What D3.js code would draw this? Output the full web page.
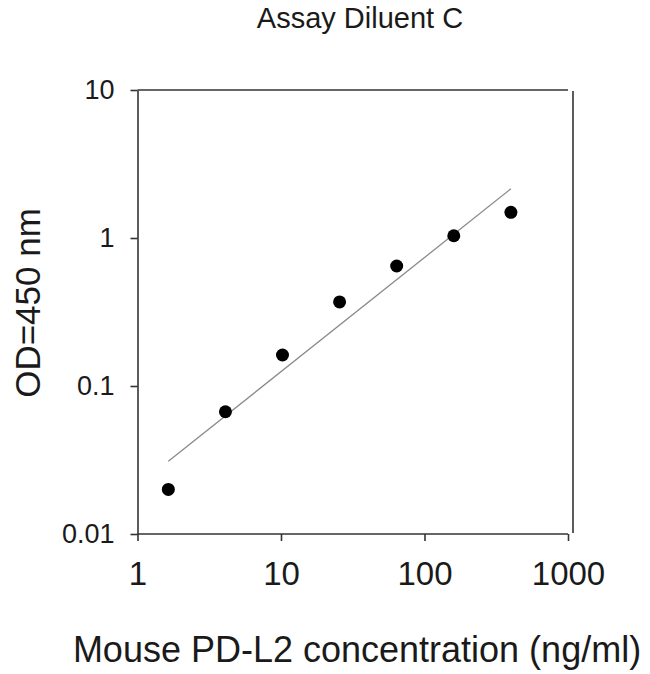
<!DOCTYPE html>
<html lang="en">
<head>
    <meta charset="UTF-8">
    <title>Assay Diluent C</title>
    <script src="https://d3js.org/d3.v7.min.js"></script>
    <style>
        body { margin: 0; background: #fff; }
        svg { display: block; font-family: "Liberation Sans", Arial, sans-serif; }
        .axis path, .axis line { stroke: #333; stroke-width: 1.6; }
        .axis text { fill: #1a1a1a; }
        .title { font-size: 29px; fill: #1a1a1a; }
        .axis-label { fill: #1a1a1a; }
    </style>
</head>
<body>
    <svg width="650" height="674"></svg>
    <script>
        // standard curve data
        const conc = [1.64, 4.1, 10.24, 25.6, 64, 160, 400];
        const od = [0.020, 0.067, 0.162, 0.370, 0.647, 1.036, 1.49];
        // fitted line end points
        const fitConc = [1.64, 400];
        const fitOd = [0.031, 2.15];
        const xTicks = [1, 10, 100, 1000];
        const yTicks = [0.01, 0.1, 1, 10];

        const svg = d3.select("svg");

        const x = d3.scaleLog().domain([1, 1000]).range([137.5, 568]);
        const y = d3.scaleLog().domain([0.01, 10]).range([534, 90]);

        // frame: top and right lines
        svg.append("line")
            .attr("x1", x(1)).attr("x2", x(1000))
            .attr("y1", y(10)).attr("y2", y(10))
            .attr("stroke", "#333").attr("stroke-width", 1.6);
        svg.append("line")
            .attr("x1", x(1000) + 5).attr("x2", x(1000) + 5)
            .attr("y1", y(10) + 1).attr("y2", y(0.01) - 1)
            .attr("stroke", "#333").attr("stroke-width", 1.6);

        svg.append("g")
            .attr("class", "axis")
            .attr("transform", `translate(0,${y(0.01)})`)
            .call(d3.axisBottom(x).tickValues(xTicks).tickFormat(d3.format("d"))
                .tickSize(7).tickSizeOuter(0).tickPadding(21))
            .call(g => g.select(".domain").attr("d", `M${x(1)},0H${x(1000)}`))
            .selectAll("text")
            .style("font-size", "33px");

        svg.append("g")
            .attr("class", "axis")
            .attr("transform", `translate(${x(1)},0)`)
            .call(d3.axisLeft(y).tickValues(yTicks).tickFormat(d => String(d))
                .tickSize(7).tickSizeOuter(0).tickPadding(16))
            .selectAll("text")
            .style("font-size", "27px");

        svg.selectAll(".axis").attr("font-family", null).attr("font-size", null);

        // fitted line
        svg.append("line")
            .attr("x1", x(fitConc[0])).attr("y1", y(fitOd[0]))
            .attr("x2", x(fitConc[1])).attr("y2", y(fitOd[1]))
            .attr("stroke", "#8a8a8a").attr("stroke-width", 1.3);

        svg.selectAll(".dot")
            .data(conc)
            .enter()
            .append("circle")
            .attr("class", "dot")
            .attr("cx", d => x(d))
            .attr("cy", (d, i) => y(od[i]))
            .attr("r", 6.5)
            .attr("fill", "#000");

        svg.append("text")
            .attr("class", "title")
            .attr("x", 360)
            .attr("y", 28)
            .attr("text-anchor", "middle")
            .text("Assay Diluent C");

        svg.append("text")
            .attr("class", "axis-label")
            .attr("x", 357)
            .attr("y", 662)
            .attr("text-anchor", "middle")
            .style("font-size", "36px")
            .text("Mouse PD-L2 concentration (ng/ml)");

        svg.append("text")
            .attr("class", "axis-label")
            .attr("transform", "translate(40,303) rotate(-90)")
            .attr("text-anchor", "middle")
            .style("font-size", "35px")
            .text("OD=450 nm");
    </script>
</body>
</html>
